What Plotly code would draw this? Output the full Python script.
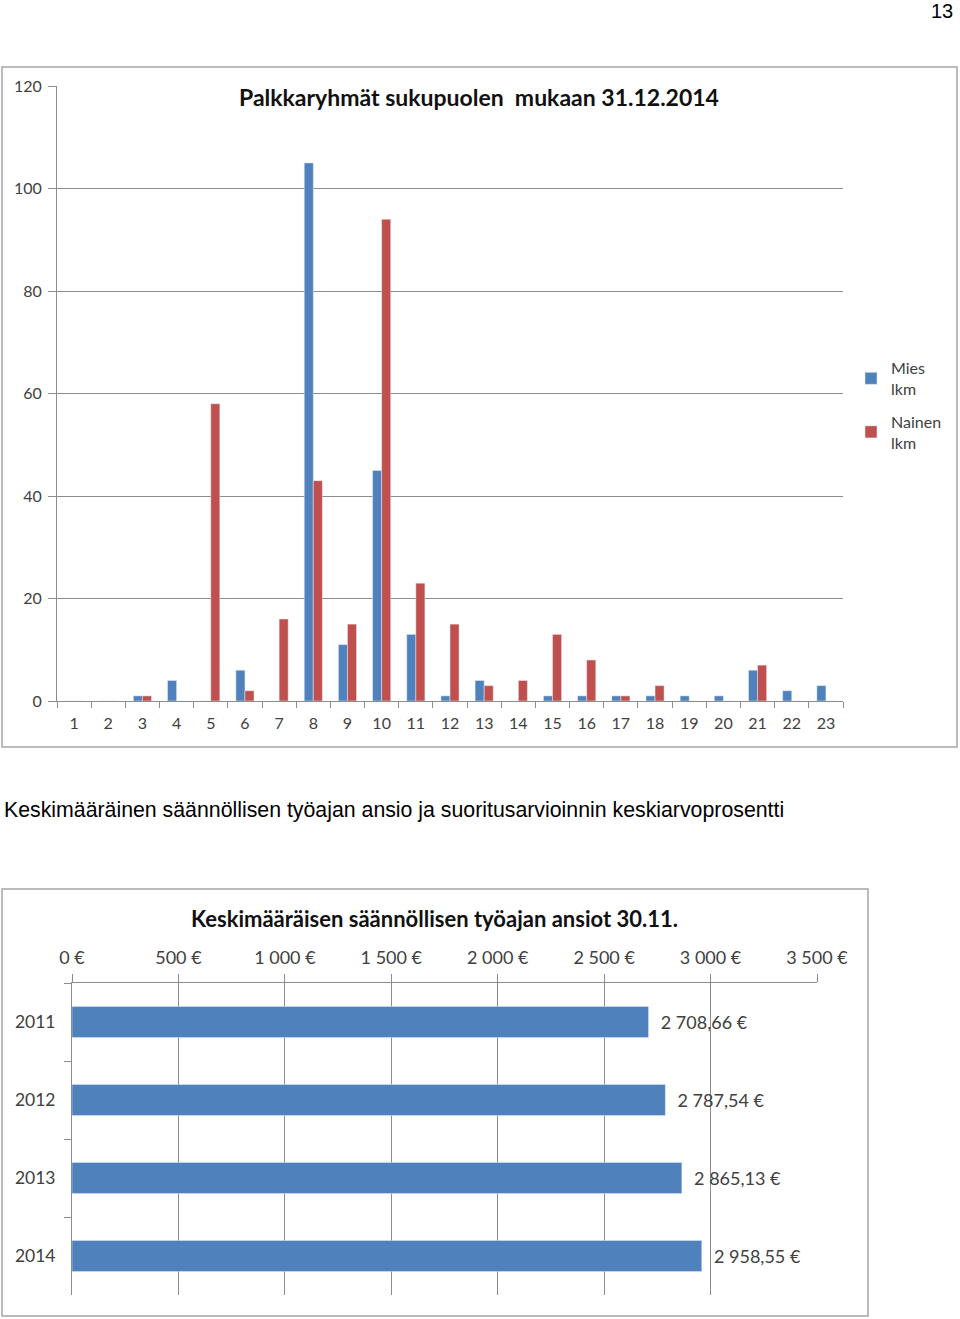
import plotly.graph_objects as go

# ---- Data: top chart ----
groups = [str(i) for i in range(1, 24)]
mies = [0, 0, 1, 4, 0, 6, 0, 105, 11, 45, 13, 1, 4, 0, 1, 1, 1, 1, 1, 1, 6, 2, 3]
nainen = [0, 0, 1, 0, 58, 2, 16, 43, 15, 94, 23, 15, 3, 4, 13, 8, 1, 3, 0, 0, 7, 0, 0]
y_ticks_top = [0, 20, 40, 60, 80, 100, 120]

# ---- Data: bottom chart ----
years = ["2011", "2012", "2013", "2014"]
earnings = [2708.66, 2787.54, 2865.13, 2958.55]
x_ticks_bottom = [0, 500, 1000, 1500, 2000, 2500, 3000, 3500]
x_ticktext_bottom = [f"{v:,}".replace(",", " ") + " €" for v in x_ticks_bottom]

W, H = 960, 1319
def px_x(p): return p / W
def px_y(p): return 1 - p / H

BLUE = "#4F81BD"
RED = "#C0504D"
GRID = "#8C8C8C"
TXT = "#404040"
CHART_FONT = "Lato"

fig = go.Figure()

fig.add_trace(go.Bar(x=groups, y=mies, name="Mies<br>lkm", marker_color=BLUE,
                     legendgroup="mies", xaxis="x", yaxis="y"))
fig.add_trace(go.Bar(x=groups, y=nainen, name="Nainen<br>lkm", marker_color=RED,
                     legendgroup="nainen", xaxis="x", yaxis="y"))

fig.add_trace(go.Bar(y=years, x=earnings, orientation="h", marker_color=BLUE,
                     xaxis="x2", yaxis="y2", showlegend=False,
                     texttemplate="\u00a0\u00a0%{x:,.2f} €", textposition="outside",
                     textfont=dict(size=18, color=TXT, family=CHART_FONT),
                     cliponaxis=False, width=0.4))

fig.update_layout(
    width=W, height=H,
    margin=dict(l=0, r=0, t=0, b=0, pad=0, autoexpand=False),
    paper_bgcolor="white", plot_bgcolor="white",
    separators=", ",
    barmode="group", bargap=0.47, bargroupgap=0,
    font=dict(family=CHART_FONT, color=TXT, size=16),
    xaxis=dict(domain=[px_x(57), px_x(843)], anchor="y", type="category",
               tickson="boundaries", ticks="outside", ticklen=6, tickcolor=GRID,
               showline=True, linecolor=GRID, linewidth=1, showgrid=False,
               tickfont=dict(size=16, color=TXT), range=[-0.5, 22.5],
               ticklabelstandoff=8, automargin=False),
    yaxis=dict(domain=[px_y(701), px_y(86)], anchor="x", range=[0, 120],
               tickvals=y_ticks_top, ticks="outside", ticklen=8, tickcolor=GRID,
               showline=True, linecolor=GRID, linewidth=1,
               showgrid=True, gridcolor=GRID, gridwidth=1, zeroline=False,
               tickfont=dict(size=16, color=TXT), ticklabelstandoff=3,
               automargin=False),
    xaxis2=dict(domain=[px_x(72), px_x(817)], anchor="y2", side="top",
                range=[0, 3500], tickvals=x_ticks_bottom, ticktext=x_ticktext_bottom,
                ticks="outside", ticklen=8, tickcolor=GRID,
                showline=True, linecolor=GRID, showgrid=True, gridcolor=GRID,
                zeroline=False, tickfont=dict(size=18, color=TXT),
                ticklabelstandoff=3, automargin=False),
    yaxis2=dict(domain=[px_y(1295), px_y(983)], anchor="x2", type="category",
                autorange="reversed", tickson="boundaries", ticks="outside",
                ticklen=7, tickcolor=GRID, showline=True, linecolor=GRID,
                showgrid=False, tickfont=dict(size=17.5, color=TXT),
                ticklabelstandoff=12, automargin=False),
    legend=dict(x=px_x(851), y=px_y(351), xanchor="left", yanchor="top",
                font=dict(size=16, color=TXT), tracegroupgap=9, itemwidth=30,
                bgcolor="rgba(0,0,0,0)"),
    shapes=[
        dict(type="rect", xref="paper", yref="paper",
             x0=px_x(2), x1=px_x(957), y0=px_y(747), y1=px_y(67),
             line=dict(color="#A6A6A6", width=1.5)),
        dict(type="rect", xref="paper", yref="paper",
             x0=px_x(2), x1=px_x(868), y0=px_y(1316), y1=px_y(889),
             line=dict(color="#A6A6A6", width=1.5)),
    ],
    annotations=[
        dict(text="<b>Palkkaryhmät sukupuolen  mukaan 31.12.2014</b>",
             xref="paper", yref="paper", x=px_x(479), y=px_y(97),
             xanchor="center", yanchor="middle", showarrow=False,
             font=dict(size=23, color="#111111", family=CHART_FONT)),
        dict(text="<b>Keskimääräisen säännöllisen työajan ansiot 30.11.</b>",
             xref="paper", yref="paper", x=px_x(434), y=px_y(918),
             xanchor="center", yanchor="middle", showarrow=False,
             font=dict(size=22, color="#111111", family=CHART_FONT)),
        dict(text="Keskimääräinen säännöllisen työajan ansio ja suoritusarvioinnin keskiarvoprosentti",
             xref="paper", yref="paper", x=px_x(2), y=px_y(810),
             xanchor="left", yanchor="middle", showarrow=False,
             font=dict(size=21.3, color="#000000", family="Liberation Sans")),
        dict(text="13", xref="paper", yref="paper", x=px_x(955), y=px_y(11),
             xanchor="right", yanchor="middle", showarrow=False,
             font=dict(size=20, color="#000000", family="Liberation Sans")),
    ],
)

fig.write_html("out.html",
               config={"displayModeBar": False},
               post_script="document.body.style.margin='0';document.body.style.padding='0';")
